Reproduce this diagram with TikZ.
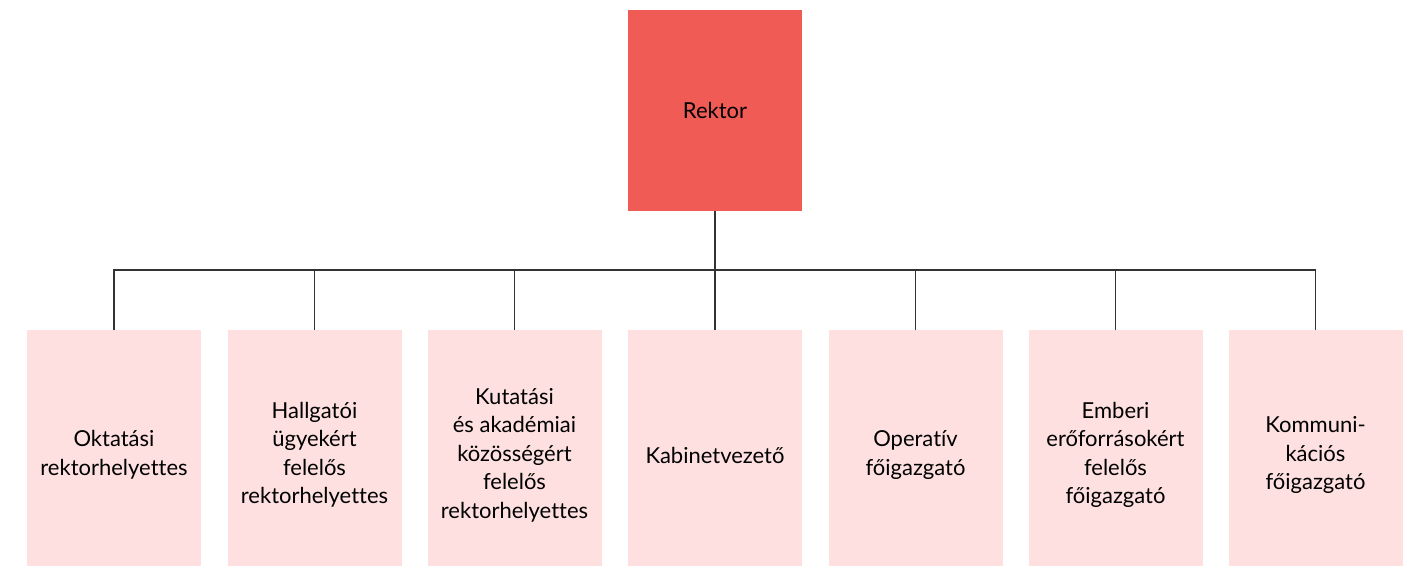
\documentclass[tikz,border=0pt]{standalone}
\usepackage{fontspec}
\setmainfont[Ligatures={NoCommon}]{Lato}
\definecolor{topred}{RGB}{240,91,86}
\definecolor{childpink}{RGB}{253,224,223}
\definecolor{linegray}{RGB}{51,51,51}
\begin{document}
\begin{tikzpicture}[x=1pt,y=-1pt,
  topbox/.style={fill=topred,draw=none,minimum width=174pt,minimum height=201pt,inner sep=0pt,outer sep=0pt,font=\fontsize{22}{28.5}\selectfont,text=black},
  childbox/.style={fill=childpink,draw=none,minimum width=174pt,minimum height=236pt,inner sep=0pt,outer sep=0pt},
  childtext/.style={align=center,inner sep=0pt,font=\fontsize{22}{28.5}\selectfont,text=black},
  conn/.style={draw=linegray,line width=1.3pt}]
\useasboundingbox (0,0) rectangle (1414,566);
\node[topbox] (top) at (715,110.5) {Rektor};
\foreach \n/\x in {c1/114,c2/314.5,c3/514.5,c4/715,c5/915.5,c6/1115.5,c7/1315.5}
  {\node[childbox] (\n) at (\x,448) {};}
\node[childtext] (t1) at ([yshift=-7pt]c1.center) {Oktatási\\rektorhelyettes};
\node[childtext] (t2) at ([yshift=-7pt]c2.center) {Hallgatói\\ügyekért\\felelős\\rektorhelyettes};
\node[childtext] (t3) at ([yshift=-7pt]c3.center) {Kutatási\\és akadémiai\\közösségért\\felelős\\rektorhelyettes};
\node[childtext] (t4) at ([yshift=-7pt]c4.center) {Kabinetvezető};
\node[childtext] (t5) at ([yshift=-7pt]c5.center) {Operatív\\főigazgató};
\node[childtext] (t6) at ([yshift=-7pt]c6.center) {Emberi\\erőforrásokért\\felelős\\főigazgató};
\node[childtext] (t7) at ([yshift=-7pt]c7.center) {Kommuni-\\kációs\\főigazgató};
\coordinate (bus) at (715,270);
\draw[conn] (top.south) -- (c4.north);
\draw[conn] (c1.north) -- (c1.north |- bus) -- (c7.north |- bus) -- (c7.north);
\foreach \c in {c2,c3,c5,c6}{\draw[conn] (\c.north) -- (\c.north |- bus);}
\end{tikzpicture}
\end{document}
